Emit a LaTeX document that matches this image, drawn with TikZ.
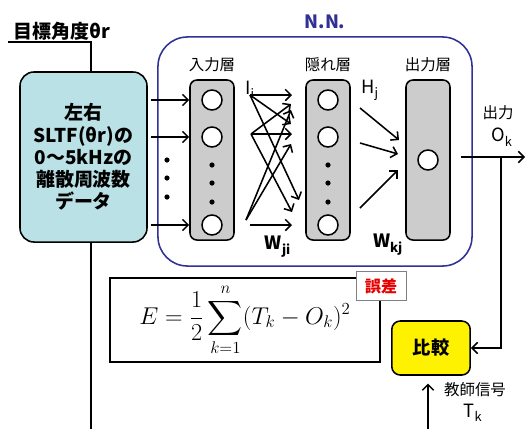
\documentclass[tikz,border=0pt]{standalone}
\usepackage[no-math]{fontspec}
\usepackage{amsmath}
\setmainfont{Noto Sans CJK JP}
\usetikzlibrary{arrows.meta}
\definecolor{nnblue}{RGB}{48,48,150}
\definecolor{datacyan}{RGB}{185,225,230}
\definecolor{layergray}{RGB}{204,204,204}
\definecolor{errred}{RGB}{230,0,0}

\begin{document}
\begin{tikzpicture}[x=0.025cm, y=-0.025cm, line width=1.1pt,
	layer/.style={draw, fill=layergray, rounded corners=5pt, minimum width=1.1cm, minimum height=4cm},
	neuron/.style={circle, draw, fill=white, minimum size=0.5cm, inner sep=0pt},
	dotmark/.style={circle, fill=black, minimum size=0.13cm, inner sep=0pt},
	sig/.style={-{Straight Barb[length=4pt,width=8pt]}},
	lbl/.style={font=\fontsize{11}{13}\selectfont},
	sym/.style={font=\fontsize{13}{15}\selectfont}]
	\useasboundingbox (0,0) rectangle (526,429);
	
	\node[anchor=west, font=\bfseries\fontsize{13.5}{16}\selectfont] (goal) at (8,31) {目標角度θr};
	\node[draw, fill=datacyan, rounded corners=10pt, minimum width=3.175cm, minimum height=4.25cm, align=center, font=\bfseries\fontsize{13.5}{15.8}\selectfont] (data) at (83.5,157) {左右\\SLTF(θr)の\\0～5kHzの\\離散周波数\\データ};
	\coordinate (tap) at (91,42);
	\coordinate (foot) at (91,429);
	\draw (goal.west |- tap) -- (tap) -- (tap |- data.north);
	\draw (data.south -| foot) -- (foot);
	
	\node[draw=nnblue, rounded corners=21pt, minimum width=7.85cm, minimum height=5.725cm] (nn) at (315,151.5) {};
	\node[text=nnblue, font=\bfseries\fontsize{13}{15}\selectfont] (nnlabel) at (325,22) {N.N.};
	
	\node[layer] (inL) at (212,160) {};
	\node[layer] (hidL) at (328,160) {};
	\node[layer] (outL) at (428,160) {};
	\node[lbl] (inLabel) at (212,65) {入力層};
	\node[lbl] (hidLabel) at (328,65) {隠れ層};
	\node[lbl] (outLabel) at (428,65) {出力層};
	
	\foreach \n/\y in {1/100, 2/137, 3/225} {
		\node[neuron] (in\n) at (212,\y) {};
		\node[neuron] (hid\n) at (328,\y) {};
	}
	\node[neuron] (out1) at (428,160) {};
	\foreach \y in {165,183,202} {
		\node[dotmark] (indot\y) at (212,\y) {};
		\node[dotmark] (hiddot\y) at (328,\y) {};
	}
	\foreach \y in {160,178,197}
		\node[dotmark] (datadot\y) at (167,\y) {};
	
	\foreach \n in {1,2,3}
		\draw[sig, shorten <=2pt] (data.east |- in\n) -- (inL.west |- in\n);
	
	\coordinate (src1) at (250,95);
	\coordinate (src2) at (251,134);
	\coordinate (src3) at (246,220);
	\foreach \s/\tx/\ty in {src1/292/95, src1/291/124, src1/299/200, src2/291/104, src2/292/134, src2/292/212, src3/291/110, src3/291/144}
		\draw[sig] (\s) -- (\tx,\ty);
	\draw[sig] (250,225) -- (292,225);
	
	\draw[sig] (360,108) -- (399,140);
	\draw[sig] (360,143) -- (398,154);
	\draw[sig] (360,208) -- (398,170);
	
	\node[sym] (ilabel) at (250,90) {I\textsubscript{i}};
	\node[sym] (hlabel) at (370,90) {H\textsubscript{j}};
	\node[sym, font=\bfseries\fontsize{13}{15}\selectfont] (wji) at (278,247) {W\textsubscript{ji}};
	\node[sym, font=\bfseries\fontsize{13}{15}\selectfont] (wkj) at (388,245) {W\textsubscript{kj}};
	
	\coordinate (outstart) at (461,157);
	\coordinate (branch) at (501,157);
	\coordinate (outend) at (525,157);
	\draw[sig] (outstart) -- (outend);
	\node[lbl] (outText) at (498,113) {出力};
	\node[sym] (oklabel) at (502,137) {O\textsubscript{k}};
	
	\node[draw, fill=yellow, rounded corners=6pt, minimum width=1.96cm, minimum height=1.35cm, font=\bfseries\fontsize{13}{15}\selectfont] (cmp) at (431,348) {比較};
	\draw[sig] (branch) -- (branch |- cmp) -- (cmp.east);
	\coordinate (teach) at (428,429);
	\draw[sig, shorten >=5.5pt] (teach) -- (teach |- cmp.south);
	\node[lbl] (teachLabel) at (475,390) {教師信号};
	\node[sym] (tk) at (473,413) {T\textsubscript{k}};
	
	\node[draw, minimum width=6.75cm, minimum height=2.1cm, font=\fontsize{17}{20}\selectfont] (errbox) at (245,320) {$\displaystyle E=\frac{1}{2}\sum_{k=1}^{n}(T_k-O_k)^2$};
	\node[draw=gray, fill=white, line width=0.6pt, text=errred, font=\bfseries\fontsize{11.5}{13}\selectfont, minimum width=1.25cm, minimum height=0.72cm] (errlabel) at (381,286) {誤差};
\end{tikzpicture}
\end{document}
